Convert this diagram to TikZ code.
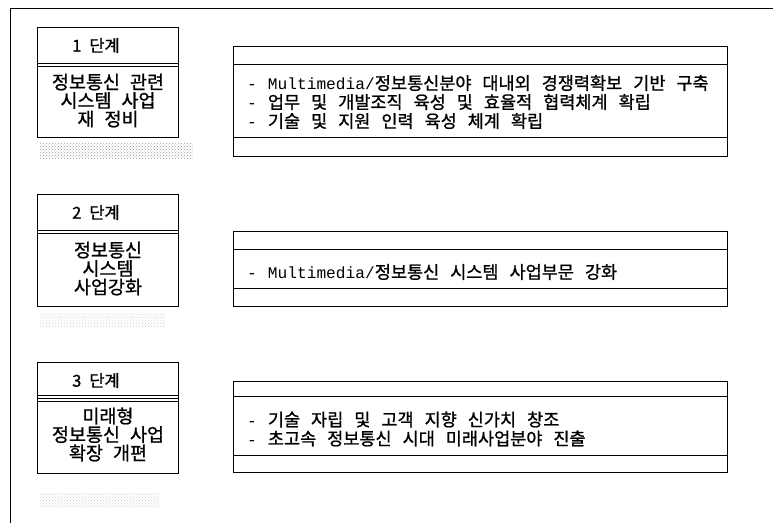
\documentclass[tikz,border=0pt]{standalone}
\usepackage{fontspec}
\setmainfont{Noto Sans CJK KR}[FakeBold=1]
\newfontfamily\latmono{Liberation Mono}
\usetikzlibrary{patterns,calc}
\newcommand\headfont{\fontsize{16.5}{18}\selectfont\spaceskip 8pt\relax}
\newcommand\bodyfont{\fontsize{18.5}{18.5}\selectfont\spaceskip 10pt\relax}
\newcommand\itemfont{\fontsize{17.5}{19}\selectfont\spaceskip 11pt\relax}
\newcommand\mdash{{\latmono\fontsize{16.2}{19}\selectfont -}}
\newcommand\mm{{\latmono\fontsize{16.2}{19}\selectfont Multimedia/}}
\begin{document}
\begin{tikzpicture}[x=1pt,y=-1pt,
  frame/.style={line width=1pt},
  head/.style={draw,line width=1pt,anchor=north west,minimum width=141pt,minimum height=36pt,inner sep=0pt},
  headtext/.style={anchor=west,inner sep=0pt,font=\headfont},
  body/.style={draw,line width=1pt,anchor=north west,minimum width=141pt,inner sep=0pt,align=center,font=\bodyfont},
  strip/.style={draw,line width=1pt,anchor=north west,minimum width=494pt,inner sep=0pt},
  items/.style={anchor=west,align=left,inner sep=0pt,font=\itemfont},
  shade1/.style={pattern=crosshatch dots,pattern color=gray!80},
  shade2/.style={pattern=crosshatch dots,pattern color=gray!35}]
\useasboundingbox (0,0) rectangle (773,523);
% outer frame
\coordinate (ftl) at (10,8);
\coordinate (ftr) at (773,8);
\coordinate (fbl) at (10,523);
\draw[frame] (ftr) -- (ftl) -- (fbl);

% stage 1
\fill[shade1] (40,143) rectangle (193,158);
\node[head] (h1) at (37,27) {};
\node[headtext] (l1) at ($(h1.west)+(35,0)$) {1 단계};
\node[body,minimum height=74pt] (b1) at (37,63) {정보통신 관련\\시스템 사업\\재 정비};
\draw[line width=1pt] ($(h1.south west)+(0,2.5)$) -- ($(h1.south east)+(0,2.5)$);
\node[strip,minimum height=18pt] (rt1) at (233,46) {};
\node[strip,minimum height=73pt] (rm1) at (233,64) {};
\node[strip,minimum height=19pt] (rb1) at (233,137) {};
\node[items] (t1) at ($(rm1.west)+(14,1)$) {\mdash{} \mm{}정보통신분야 대내외 경쟁력확보 기반 구축\\\mdash{} 업무 및 개발조직 육성 및 효율적 협력체계 확립\\\mdash{} 기술 및 지원 인력 육성 체계 확립};

% stage 2
\fill[shade2] (40,313) rectangle (165,327);
\node[head] (h2) at (37,194) {};
\node[headtext] (l2) at ($(h2.west)+(35,0)$) {2 단계};
\node[body,minimum height=76pt] (b2) at (37,230) {정보통신\\시스템\\사업강화};
\draw[line width=1pt] ($(h2.south west)+(0,2.5)$) -- ($(h2.south east)+(0,2.5)$);
\node[strip,minimum height=18pt] (rt2) at (233,231) {};
\node[strip,minimum height=39pt] (rm2) at (233,249) {};
\node[strip,minimum height=18pt] (rb2) at (233,288) {};
\node[items] (t2) at ($(rm2.west)+(14,3)$) {\mdash{} \mm{}정보통신 시스템 사업부문 강화};

% stage 3
\fill[shade2] (40,493) rectangle (160,507);
\node[head] (h3) at (37,362) {};
\node[headtext] (l3) at ($(h3.west)+(35,0)$) {3 단계};
\node[body,minimum height=78pt] (b3) at (37,395) {미래형\\정보통신 사업\\확장 개편};
\draw[line width=1pt] ($(h3.south west)+(0,2.5)$) -- ($(h3.south east)+(0,2.5)$);
\node[strip,minimum height=15pt] (rt3) at (233,381) {};
\node[strip,minimum height=59pt] (rm3) at (233,396) {};
\node[strip,minimum height=17pt] (rb3) at (233,455) {};
\node[items] (t3) at ($(rm3.west)+(14,3)$) {\mdash{} 기술 자립 및 고객 지향 신가치 창조\\\mdash{} 초고속 정보통신 시대 미래사업분야 진출};
\end{tikzpicture}
\end{document}
